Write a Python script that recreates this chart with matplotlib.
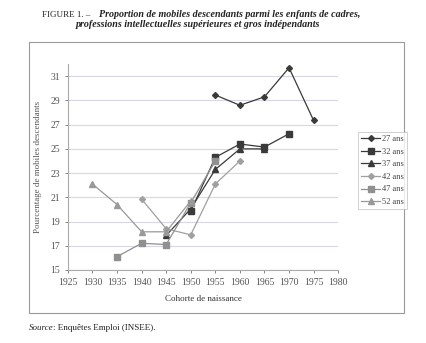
import matplotlib
matplotlib.use("Agg")
import matplotlib.pyplot as plt
from matplotlib.patches import Rectangle

plt.rcParams['font.family'] = ['Liberation Serif', 'DejaVu Serif']

# cohorts and values (percent of downward mobile)
coh_27 = [1955, 1960, 1965, 1970, 1975]
val_27 = [29.45, 28.6, 29.3, 31.7, 27.35]
coh_32 = [1950, 1955, 1960, 1965, 1970]
val_32 = [19.85, 24.3, 25.4, 25.15, 26.25]
coh_37 = [1945, 1950, 1955, 1960, 1965]
val_37 = [17.85, 20.05, 23.3, 25.0, 25.0]
coh_42 = [1940, 1945, 1950, 1955, 1960]
val_42 = [20.85, 18.4, 17.9, 22.1, 24.0]
coh_47 = [1935, 1940, 1945, 1950, 1955]
val_47 = [16.1, 17.2, 17.1, 20.55, 24.0]
coh_52 = [1930, 1935, 1940, 1945, 1950]
val_52 = [22.1, 20.4, 18.15, 18.15, 20.7]

series = [
    ("27 ans", coh_27, val_27, "D", "#3a3a3a", 3),
    ("32 ans", coh_32, val_32, "s", "#3a3a3a", 5),
    ("37 ans", coh_37, val_37, "^", "#3a3a3a", 5),
    ("42 ans", coh_42, val_42, "D", "#a0a0a0", 3),
    ("47 ans", coh_47, val_47, "s", "#909090", 5),
    ("52 ans", coh_52, val_52, "^", "#999999", 5),
]

fig = plt.figure(figsize=(4.27, 3.43), dpi=100)
ax = fig.add_axes([0.159, 0.213, 0.633, 0.60])

for name, x, y, m, c, ms in series:
    ax.plot(x, y, marker=m, color=c, markersize=ms, linewidth=0.9, label=name)

ax.set_xlim(1925, 1980)
ax.set_ylim(15, 32)
ax.set_xticks(range(1925, 1981, 5))
ax.set_yticks(range(15, 32, 2))
ax.grid(True, axis='y', color='#d8d8e4', linewidth=0.8)
ax.set_axisbelow(True)
for s in ['top', 'right']:
    ax.spines[s].set_visible(False)
for s in ['left', 'bottom']:
    ax.spines[s].set_color('#aaaaaa')
    ax.spines[s].set_linewidth(0.8)
ax.tick_params(labelsize=7, colors='#555555', length=2, width=0.5)
ax.set_xlabel("Cohorte de naissance", fontsize=6.5, color='#333333', labelpad=6)
ax.set_ylabel("Pourcentage de mobiles descendants", fontsize=6.5, color='#555555', labelpad=6)

leg = fig.legend(loc='upper left', bbox_to_anchor=(0.829, 0.628), fontsize=6,
                 frameon=True, fancybox=False, edgecolor='#bbbbbb',
                 handlelength=2.2, labelspacing=0.55, borderpad=0.4, handletextpad=0.3)
leg.get_frame().set_linewidth(0.6)
for t in leg.get_texts():
    t.set_color('#444444')

# outer frame
fig.patches.append(Rectangle((0.068, 0.0875), 0.878, 0.79, transform=fig.transFigure,
                             fill=False, edgecolor='#999999', linewidth=0.8))

fig.text(0.098, 0.957, "FIGURE 1. –", fontsize=6.5, ha='left', va='center', color='#222222')
fig.text(0.232, 0.957, "Proportion de mobiles descendants parmi les enfants de cadres,",
         fontsize=7.2, ha='left', va='center', style='italic', weight='bold', color='#222222')
fig.text(0.463, 0.93, "professions intellectuelles supérieures et gros indépendants",
         fontsize=7.2, ha='center', va='center', style='italic', weight='bold', color='#222222')
fig.text(0.068, 0.038, "Source", fontsize=6.5, style='italic', color='#222222')
fig.text(0.125, 0.038, ": Enquêtes Emploi (INSEE).", fontsize=6.5, color='#222222')

fig.savefig("out.png", dpi=100)
